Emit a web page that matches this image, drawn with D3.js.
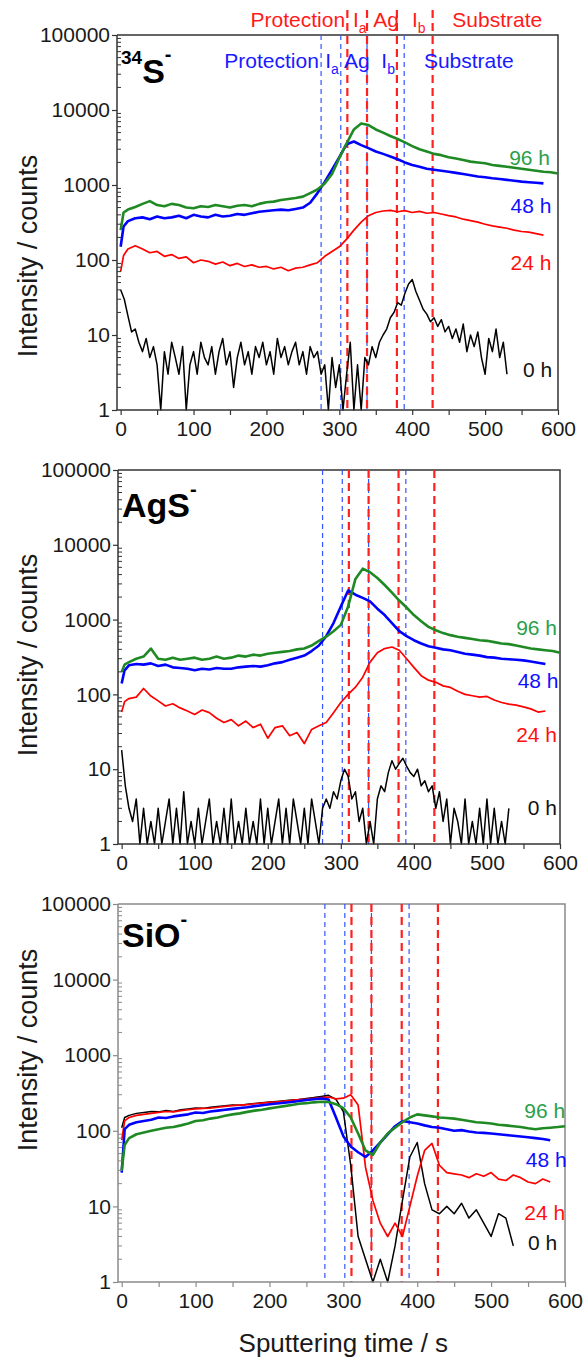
<!DOCTYPE html>
<html>
<head>
<meta charset="utf-8">
<script src="https://cdn.jsdelivr.net/npm/d3@7"></script>
<style>
  body { margin: 0; background: #fff; }
  svg { display: block; }
  text { font-family: "Liberation Sans", Arial, sans-serif; }
</style>
</head>
<body>
<svg id="chart" width="585" height="1371"></svg>
<script>
// sample times (s)
const times10 = [0,4,10,20,30,40,50,60,70,80,90,100,110,120,130,140,150,160,170,180,190,200,210,220,230,240,250,260,270,280,290,300,310,320,330,340,350,360,370,380,390,400,410,420,430,440,450,460,470,480,490,500,510,520,530,540,550,560,570,580,590,600];
const times5 = [0,5,10,15,20,25,30,35,40,45,50,55,60,65,70,75,80,85,90,95,100,105,110,115,120,125,130,135,140,145,150,155,160,165,170,175,180,185,190,195,200,205,210,215,220,225,230,235,240,245,250,255,260,265,270,275,280,285,290,295,300,305,310,315,320,325,330,335,340,345,350,355,360,365,370,375,380,385,390,395,400,405,410,415,420,425,430,435,440,445,450,455,460,465,470,475,480,485,490,495,500,505,510,515,520,525,530];

// 34S- panel
const s34_96h = [250,430,470,510,560,610,540,520,560,540,500,490,520,510,540,520,500,530,540,520,560,590,600,630,650,670,700,780,870,1050,1400,2300,3600,5500,6600,6300,5500,5000,4500,4100,3700,3300,3000,2800,2600,2500,2350,2250,2150,2050,2000,1950,1850,1800,1750,1700,1650,1600,1550,1500,1480,1420];
const s34_48h = [150,280,330,360,370,350,380,360,370,390,360,400,380,370,400,380,390,410,400,420,440,450,460,470,460,480,500,580,780,1100,1600,2350,3500,3800,3400,3100,2800,2600,2400,2200,2000,1850,1750,1650,1600,1550,1500,1450,1400,1350,1300,1270,1230,1200,1170,1140,1110,1090,1070,1050];
const s34_24h = [70,115,140,155,140,125,130,112,118,105,110,92,100,96,88,94,84,90,82,86,80,82,76,80,72,78,80,86,92,112,130,150,190,250,320,390,430,450,460,440,455,430,445,420,430,410,390,375,350,335,320,300,285,275,265,250,240,235,225,215];
const s34_0h = [40,30,18,11,12,8,6,9,5,7,4,1,6,3,8,5,3,7,1,4,6,3,8,5,4,7,3,6,9,4,6,2,5,8,4,6,3,7,5,8,4,6,3,9,5,7,4,6,8,4,6,3,7,5,6,3,4,1,5,2,4,1,3,8,1,4,1,5,4,7,5,8,10,12,17,20,27,25,36,48,55,38,29,22,19,15,17,13,16,11,13,9,12,8,14,6,10,7,11,5,3,9,6,12,5,8,3];

// AgS- panel
const ags_96h = [200,250,270,300,320,410,300,290,310,290,300,310,290,300,320,300,310,330,320,340,330,350,360,370,380,400,410,450,520,590,700,850,1500,3500,4800,4300,3600,2900,2300,1800,1450,1150,950,800,720,660,620,590,570,550,530,520,500,480,470,450,430,410,400,390,380,360];
const ags_48h = [140,210,245,255,250,260,240,250,230,225,220,210,220,215,225,220,220,230,235,240,235,245,260,270,290,310,330,380,450,600,900,1500,2450,2150,1950,1750,1400,1150,900,700,600,530,480,440,420,400,390,370,350,340,330,315,310,300,295,290,285,275,265,255];
const ags_24h = [58,80,88,92,120,95,82,70,75,66,60,54,62,57,48,42,46,38,44,36,40,26,36,38,28,31,22,34,38,42,57,78,100,125,170,270,360,410,430,390,300,230,178,155,145,130,124,110,100,96,92,94,84,78,74,72,68,64,58,60];
const ags_0h = [18,6,3,2,4,1,3,1,2,1,3,1,2,4,1,3,1,5,1,2,1,3,1,2,4,1,2,1,3,1,4,1,2,1,3,1,2,1,4,1,3,1,2,4,1,3,1,4,2,1,3,1,4,2,1,3,4,3,5,4,7,10,8,4,5,2,3,1,2,1,4,6,5,9,13,10,12,14,11,9,8,10,6,7,5,6,3,5,2,4,1,3,2,1,4,1,2,1,3,1,4,1,3,1,2,1,3];

// SiO- panel
const sio_96h = [30,65,80,90,95,100,105,110,112,118,125,135,138,145,150,158,165,170,178,185,190,198,205,212,220,228,232,238,242,240,225,200,150,92,55,48,70,92,110,130,150,165,160,155,150,148,145,140,135,130,128,125,120,118,115,112,108,105,108,110,112,115];
const sio_48h = [28,105,120,130,135,140,150,148,155,160,165,175,172,180,185,190,195,200,205,212,218,225,230,235,240,248,255,262,268,260,150,85,62,52,45,55,70,90,115,135,130,125,118,112,110,105,100,102,98,95,94,92,90,88,86,84,82,80,78,75];
const sio_24h = [75,135,150,160,165,170,175,180,178,185,190,195,198,200,205,210,215,218,222,228,232,238,242,248,252,258,262,268,275,280,265,270,300,220,33,12,6,4,6,4,10,25,55,68,35,28,27,26,24,27,25,28,23,22,26,24,21,20,23,21];
const sio_0h = [110,150,160,170,175,180,178,185,180,190,195,200,198,205,210,215,220,218,225,230,235,240,245,250,255,260,268,275,285,295,260,180,35,4,2,1,2,1,3,12,45,70,20,9,8,10,8,11,7,9,6,4,8,7,3];

const seriesNames = ["96 h", "48 h", "24 h", "0 h"];
const yTicks = [1, 10, 100, 1000, 10000, 100000];
const xTicks = [0, 100, 200, 300, 400, 500, 600];

// layer boundaries (s)
const blueBounds = [275, 302, 338, 389];
const redBounds = [311, 338, 379, 428];
const regionText = ["Protection", "I", "Ag", "I", "Substrate"];
const regionSub = ["", "a", "", "b", ""];
const regionAnchor = ["end", "middle", "middle", "middle", "start"];
const redRegionAt = [308, 328, 364, 409, 455];
const blueRegionAt = [272, 290, 324, 367, 416];

// where the series names sit (s, counts)
const s34_labelAt = [[533, 1850], [535, 424], [535, 74], [552, 2.75]];
const ags_labelAt = [[540, 622], [542, 122], [540, 23], [556, 2.44]];
const sio_labelAt = [[545, 148], [547, 33], [545, 6.6], [550, 2.65]];

const colors = ["#1f8a24", "#0000ff", "#ff0000", "#000000"];
const textColors = ["#2aa04a", "#1010ff", "#ff1010", "#111111"];
const widths = [2.6, 2.6, 1.7, 1.5];

const svg = d3.select("#chart");

const panels = [
  { title: [["34", 19, 0], ["S", 34, 19], ["-", 20, -22]], tx: 121, ty: 64,
    left: 117, right: 558, top: 35, bottom: 410, axis: "#333", ytitle: 256,
    data: [[times10, s34_96h], [times10, s34_48h], [times10, s34_24h], [times5, s34_0h]],
    labels: s34_labelAt, header: true },
  { title: [["AgS", 34, 0], ["-", 20, -21]], tx: 122, ty: 517,
    left: 118, right: 560, top: 470, bottom: 844, axis: "#333", ytitle: 655,
    data: [[times10, ags_96h], [times10, ags_48h], [times10, ags_24h], [times5, ags_0h]],
    labels: ags_labelAt },
  { title: [["SiO", 34, 0], ["-", 20, -21]], tx: 122, ty: 947,
    left: 118, right: 565, top: 904, bottom: 1282, axis: "#8a8a8a", ytitle: 1050,
    data: [[times10, sio_96h], [times10, sio_48h], [times10, sio_24h], [times10, sio_0h]],
    labels: sio_labelAt, xtitle: true }
];

const drawPanel = (p) => {
  const x = d3.scaleLinear().domain([-5, 600]).range([p.left, p.right]);
  const y = d3.scaleLog().domain([1, 100000]).range([p.bottom, p.top]);
  const g = svg.append("g");

  // frame top/right
  g.append("path")
    .attr("d", `M${p.left},${p.top}H${p.right}V${p.bottom}`)
    .attr("fill", "none").attr("stroke", p.axis).attr("stroke-width", 1.5);

  // boundaries
  g.selectAll(".bb").data(blueBounds).enter().append("line")
    .attr("x1", d => x(d)).attr("x2", d => x(d))
    .attr("y1", p.top).attr("y2", p.bottom)
    .attr("stroke", "#3355ff").attr("stroke-width", 1.2)
    .attr("stroke-dasharray", "5,4");
  g.selectAll(".rb").data(redBounds).enter().append("line")
    .attr("x1", d => x(d)).attr("x2", d => x(d))
    .attr("y1", p.header ? 10 : p.top).attr("y2", p.bottom)
    .attr("stroke", "#ff2020").attr("stroke-width", 2.2)
    .attr("stroke-dasharray", "8,5");

  // series, black first so coloured lines sit on top
  const line = d3.line()
    .x(d => d[0])
    .y(d => d[1]);
  [3, 2, 1, 0].forEach(k => {
    const [ts, vs] = p.data[k];
    const pts = vs.map((v, i) => [x(ts[i]), y(Math.max(1, v))]);
    g.append("path")
      .attr("d", line(pts))
      .attr("fill", "none")
      .attr("stroke", colors[k])
      .attr("stroke-width", widths[k])
      .attr("stroke-linejoin", "round");
  });

  // axes
  const yAxis = d3.axisLeft(y).tickValues(yTicks).tickFormat(d3.format("d")).tickSize(5).tickPadding(2);
  const ya = g.append("g").attr("transform", `translate(${p.left},0)`).call(yAxis);
  const minor = [];
  yTicks.slice(0, -1).forEach(t => [2,3,4,5,6,7,8,9].forEach(m => minor.push(t * m)));
  g.selectAll(".minor").data(minor).enter().append("line")
    .attr("x1", p.left).attr("x2", p.left + 4)
    .attr("y1", d => y(d)).attr("y2", d => y(d))
    .attr("stroke", p.axis).attr("stroke-width", 1);

  const xAxis = d3.axisBottom(x).tickValues(d3.range(0, 601, 50))
    .tickFormat(d => xTicks.includes(d) ? d : "").tickSize(5).tickPadding(6);
  const xa = g.append("g").attr("transform", `translate(0,${p.bottom})`).call(xAxis);

  [ya, xa].forEach(a => {
    a.select(".domain").attr("stroke", p.axis).attr("stroke-width", 1.5);
    a.selectAll(".tick line").attr("stroke", p.axis).attr("stroke-width", 1.2);
    a.selectAll("text").attr("font-size", 21).attr("fill", "#1a1a1a")
      .attr("font-family", "'Liberation Sans', Arial, sans-serif");
  });
  ya.select(".domain").attr("d", `M0,${p.bottom}V${p.top}`);
  xa.select(".domain").attr("d", `M${p.left},0H${p.right}`);

  // y title
  g.append("text")
    .attr("transform", `translate(37,${p.ytitle}) rotate(-90)`)
    .attr("text-anchor", "middle")
    .attr("font-size", 27).attr("fill", "#1a1a1a")
    .text("Intensity / counts");

  // panel title
  const t = g.append("text").attr("x", p.tx).attr("y", p.ty)
    .attr("font-weight", "bold").attr("fill", "#000");
  p.title.forEach(([s, fs, dy]) => {
    t.append("tspan").attr("font-size", fs).attr("dy", dy).text(s);
  });

  // series names
  seriesNames.forEach((n, k) => {
    g.append("text")
      .attr("x", x(p.labels[k][0])).attr("y", y(p.labels[k][1]))
      .attr("font-size", 21).attr("fill", textColors[k])
      .text(n);
  });

  // region labels
  if (p.header) {
    const region = (at, yy, col) => {
      regionText.forEach((s, i) => {
        const tt = g.append("text").attr("x", x(at[i])).attr("y", yy)
          .attr("text-anchor", regionAnchor[i]).attr("font-size", 21).attr("fill", col);
        tt.append("tspan").text(s);
        if (regionSub[i]) tt.append("tspan").attr("font-size", 14).attr("dy", 6).text(regionSub[i]);
      });
    };
    region(redRegionAt, 27, "#ff1a1a");
    region(blueRegionAt, 68, "#1a1aff");
  }

  if (p.xtitle) {
    g.append("text")
      .attr("x", x(300)).attr("y", 1352)
      .attr("text-anchor", "middle")
      .attr("font-size", 26).attr("fill", "#1a1a1a")
      .text("Sputtering time / s");
  }
};

panels.forEach(drawPanel);
</script>
</body>
</html>
